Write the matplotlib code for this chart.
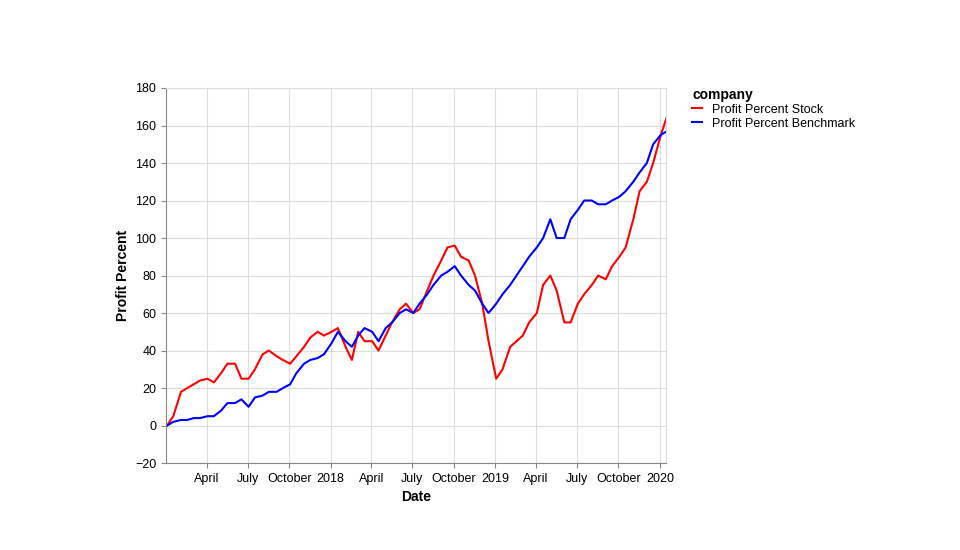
import matplotlib
matplotlib.use("Agg")
import matplotlib.pyplot as plt
import pandas as pd

plt.rcParams['font.family'] = ['Liberation Sans', 'DejaVu Sans']

stock = [0,5, 18,20, 22,24, 25,23, 28,33, 33,25, 25,30, 38,40, 37,35, 33,37, 42,47, 50,48,
         50,52, 42,35, 50,45, 45,40, 48,55, 62,65, 60,62, 72,80, 88,95, 96,90, 88,80, 65,45,
         25,30, 42,45, 48,55, 60,75, 80,72, 55,55, 65,70, 75,80, 78,85, 90,95, 110,125, 130,140,
         155,165]
bench = [0,2, 3,3, 4,4, 5,5, 8,12, 12,14, 10,15, 16,18, 18,20, 22,28, 33,35, 36,38,
         44,50, 45,42, 48,52, 50,45, 52,55, 60,62, 60,65, 70,75, 80,82, 85,80, 75,72, 65,60,
         65,70, 75,80, 85,90, 95,100, 110,100, 100,110, 115,120, 120,118, 118,120, 122,125, 130,135, 140,150,
         155,157]
months = pd.date_range("2017-01-01", "2020-01-01", freq="MS")
dates = []
for m in months:
    dates += [m + pd.Timedelta(days=2), m + pd.Timedelta(days=16)]
dates = dates[:len(stock)]

fig = plt.figure(figsize=(9.6, 5.5), dpi=100)
ax = fig.add_axes([0.173, 0.158, 0.521, 0.682])
ax.plot(dates, stock, color="#ff0000", lw=1.5, label="Profit Percent Stock")
ax.plot(dates, bench, color="#0000ff", lw=1.5, label="Profit Percent Benchmark")
ax.set_ylim(-20, 180)
ax.set_yticks(range(-20, 181, 20))
ax.set_yticklabels(["\u221220"] + [str(v) for v in range(0, 181, 20)])
ax.set_xlim(pd.Timestamp("2017-01-01"), pd.Timestamp("2020-01-15"))
ticks = pd.date_range("2017-04-01", "2020-01-01", freq="QS")
ax.set_xticks(ticks)
ax.set_xticklabels([str(t.year) if t.month == 1 else t.strftime("%B") for t in ticks])
ax.grid(True, color="#dddddd", lw=0.8)
ax.set_axisbelow(True)
for s in ["top", "right"]:
    ax.spines[s].set_color("#dddddd")
for s in ["left", "bottom"]:
    ax.spines[s].set_color("#888888")
ax.tick_params(labelsize=9, color="#888888")
ax.set_xlabel("Date", fontsize=10, fontweight="bold")
ax.set_ylabel("Profit Percent", fontsize=10, fontweight="bold")
leg = ax.legend(loc="upper left", bbox_to_anchor=(1.03, 1.03), frameon=False, title="company",
                fontsize=9, title_fontsize=10, handlelength=0.8, labelspacing=0.15, alignment="left")
leg.get_title().set_fontweight("bold")
fig.savefig("out.png", dpi=100)
